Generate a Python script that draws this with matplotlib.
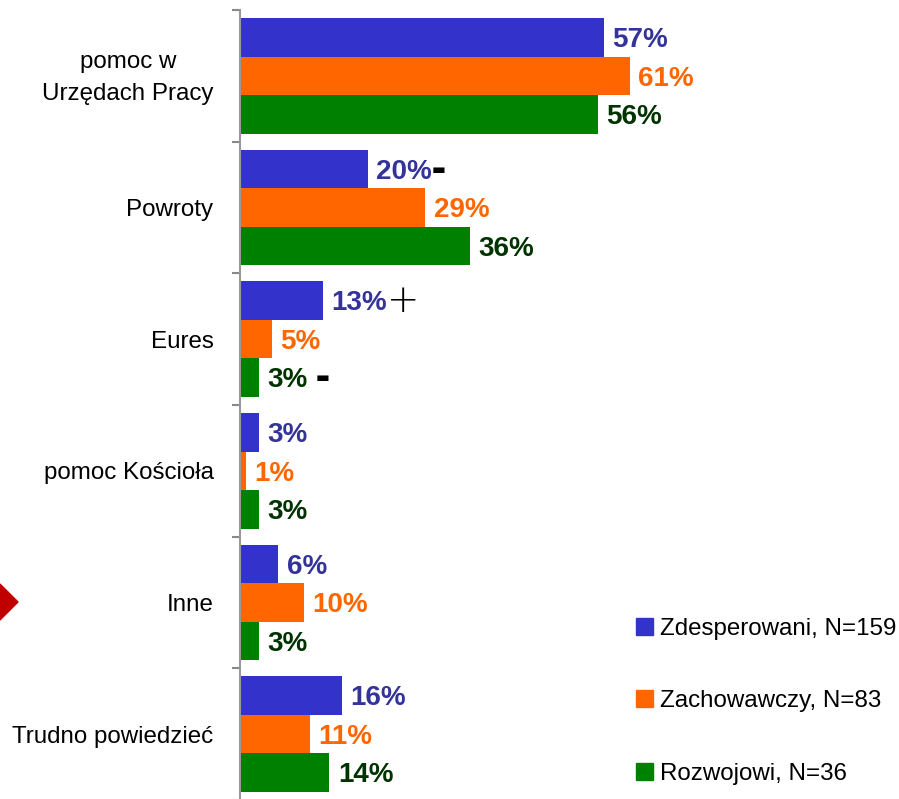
import numpy as np
import matplotlib
matplotlib.use('Agg')
import matplotlib.pyplot as plt
import matplotlib.transforms as mtrans
from matplotlib.patches import Patch, Polygon

plt.rcParams['font.family'] = ['Liberation Sans', 'DejaVu Sans']

categories = ['pomoc w\nUrzędach Pracy', 'Powroty', 'Eures', 'pomoc Kościoła', 'Inne', 'Trudno powiedzieć']
series_names = ['Zdesperowani, N=159', 'Zachowawczy, N=83', 'Rozwojowi, N=36']
zdesperowani = [57, 20, 13, 3, 6, 16]
zachowawczy = [61, 29, 5, 1, 10, 11]
rozwojowi = [56, 36, 3, 3, 3, 14]
# significance marks shown after some labels
marks_zdesp = ['', '-', '+', '', '', '']
marks_zach = ['', '', '', '', '', '']
marks_rozw = ['', '', '-', '', '', '']

BAR_COLORS = ['#3333CC', '#FF6600', '#008000']
LABEL_COLORS = ['#333399', '#FF6600', '#003300']

W, H = 899, 799
fig = plt.figure(figsize=(W / 100, H / 100), dpi=100)
ax = fig.add_axes([240 / W, 1 - 800 / H, 639 / W, 790 / H])

y = np.arange(len(categories))
bh = 0.292
series = [zdesperowani, zachowawczy, rozwojowi]
marks = [marks_zdesp, marks_zach, marks_rozw]
texts = []
for i, (vals, col) in enumerate(zip(series, BAR_COLORS)):
    pos = y + (i - 1) * bh
    ax.barh(pos, vals, height=bh, color=col, label=series_names[i])
    for p, v, m in zip(pos, vals, marks[i]):
        t = ax.annotate(f'{v}%', (v, p), xytext=(6, -2), textcoords='offset points',
                        ha='left', va='center', fontsize=20, fontweight='bold',
                        color=LABEL_COLORS[i])
        texts.append((t, m, p))

ax.set_xlim(0, 100)
ax.set_ylim(len(categories) - 0.5, -0.5)
ax.set_yticks(y)
ax.set_yticklabels(categories, fontsize=17.4, multialignment='center', linespacing=1.55)
ax.set_yticks(np.arange(len(categories) + 1) - 0.5, minor=True)
ax.tick_params(axis='y', which='major', length=0, pad=19)
ax.tick_params(axis='y', which='minor', length=6, width=1.5, color='#888888', direction='out')
ax.set_xticks([])
for s in ['top', 'right', 'bottom']:
    ax.spines[s].set_visible(False)
ax.spines['left'].set_color('#999999')
ax.spines['left'].set_linewidth(1.5)

# two-line label sits a bit higher in the original
lab0 = ax.get_yticklabels()[0]
lab0.set_transform(lab0.get_transform() + mtrans.ScaledTranslation(0, 0.05, fig.dpi_scale_trans))

# place the +/- marks right after their labels
fig.canvas.draw()
r = fig.canvas.get_renderer()
for t, m, p in texts:
    if not m:
        continue
    bb = t.get_window_extent(r)
    x_px = bb.x1 + (8 if t.get_text() == '3%' else 0)
    xd = ax.transData.inverted().transform((x_px, 0))[0]
    if m == '-':
        ax.text(xd, p, '▬', ha='left', va='center', fontsize=10.5, color='black',
                family='DejaVu Sans')
    else:
        ax.text(xd, p, '+', ha='left', va='center', fontsize=28, color='black',
                family='DejaVu Sans', fontweight='light')

handles = [Patch(color=c) for c in BAR_COLORS]
fig.legend(handles, series_names, loc='lower left', bbox_to_anchor=(636 / W, 14 / H),
           frameon=False, fontsize=17.4, handlelength=0.7, handleheight=0.7,
           handletextpad=0.3, labelspacing=2.1, borderpad=0, borderaxespad=0)

# red arrow tip at the left edge
fig.patches.append(Polygon([[0, 1 - 584 / H], [18 / W, 1 - 602 / H], [0, 1 - 620 / H]],
                           closed=True, transform=fig.transFigure, color='#C00000'))

fig.savefig('out.png', dpi=100)
